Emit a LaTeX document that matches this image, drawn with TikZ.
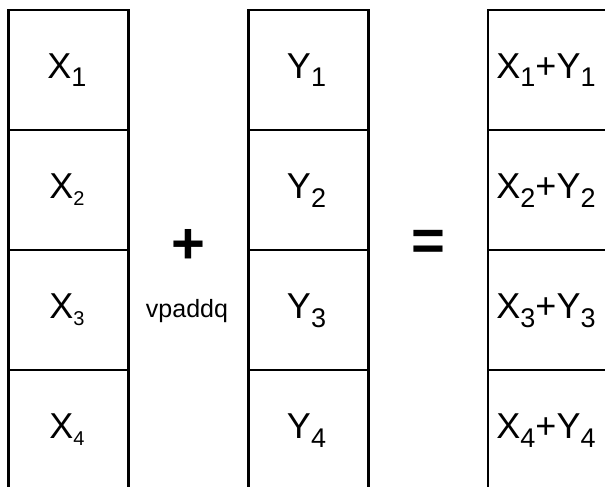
\documentclass[tikz,border=0pt]{standalone}
\usepackage{fontspec}
\setmainfont{Liberation Sans}
\newcommand{\subA}[1]{\raisebox{-9pt}{\fontsize{27}{27}\selectfont #1}}
\newcommand{\subB}[1]{\raisebox{-7pt}{\fontsize{20}{20}\selectfont #1}}
\begin{document}
\begin{tikzpicture}[x=1pt,y=-1pt]
\tikzset{
  cell/.style={draw=black, line width=2.9pt, minimum width=120pt, minimum height=120pt, inner sep=0pt},
  lbl/.style={anchor=base, inner sep=0pt, font=\fontsize{36}{40}\selectfont},
  op/.style={inner sep=0pt, font=\bfseries\fontsize{58}{60}\selectfont},
  small/.style={anchor=base, inner sep=0pt, font=\fontsize{25}{28}\selectfont}
}
\useasboundingbox (0,0) rectangle (605,487);
% column 1
\node[cell] (a1) at (68.5,70) {};
\node[cell] (a2) at (68.5,190) {};
\node[cell] (a3) at (68.5,310) {};
\node[cell] (a4) at (68.5,430) {};
% column 2
\node[cell] (b1) at (308.5,70) {};
\node[cell] (b2) at (308.5,190) {};
\node[cell] (b3) at (308.5,310) {};
\node[cell] (b4) at (308.5,430) {};
% column 3
\node[cell] (c1) at (548,70) {};
\node[cell] (c2) at (548,190) {};
\node[cell] (c3) at (548,310) {};
\node[cell] (c4) at (548,430) {};
% labels
\node[lbl] (ta1) at (67,78) {X\subA{1}};
\node[lbl] (ta2) at (67,198) {X\subB{2}};
\node[lbl] (ta3) at (67,318) {X\subB{3}};
\node[lbl] (ta4) at (67,438) {X\subB{4}};
\node[lbl] (tb1) at (306.5,78) {Y\subA{1}};
\node[lbl] (tb2) at (306.5,198) {Y\subA{2}};
\node[lbl] (tb3) at (306.5,318) {Y\subA{3}};
\node[lbl] (tb4) at (306.5,438) {Y\subA{4}};
\node[lbl] (tc1) at (546,78) {X\subA{1}+Y\subA{1}};
\node[lbl] (tc2) at (546,198) {X\subA{2}+Y\subA{2}};
\node[lbl] (tc3) at (546,318) {X\subA{3}+Y\subA{3}};
\node[lbl] (tc4) at (546,438) {X\subA{4}+Y\subA{4}};
% operators
\node[op] (plus) at (188,246) {+};
\node[small] (instr) at (187,317) {vpaddq};
\node[op] (eq) at (428,245) {=};
\end{tikzpicture}
\end{document}
